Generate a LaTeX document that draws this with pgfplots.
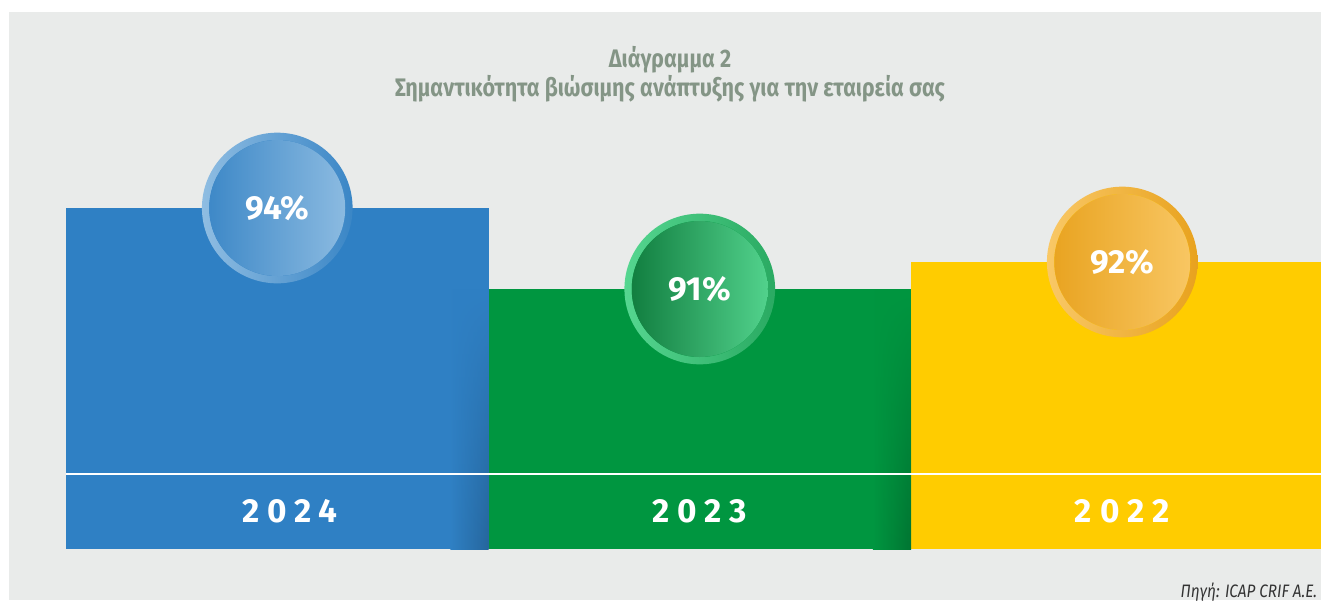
\documentclass[border=0pt]{standalone}
\usepackage{fontspec}
\setmainfont{Fira Sans}
\newfontfamily\condfont{Fira Sans}[FakeStretch=0.85]
\newfontfamily\yearfont{Fira Sans}[LetterSpace=24]
\usepackage{pgfplots}
\usetikzlibrary{fadings}
\pgfplotsset{compat=1.18}
\definecolor{bg}{HTML}{E9EBEA}
\definecolor{titlec}{HTML}{849586}
\definecolor{cblue}{HTML}{2F80C4}
\definecolor{cgreen}{HTML}{009640}
\definecolor{cyellow}{HTML}{FFCC00}
\definecolor{bLight}{HTML}{8FBDE2}
\definecolor{bDark}{HTML}{3A86C6}
\definecolor{gLight}{HTML}{55D690}
\definecolor{gDark}{HTML}{0E7A3C}
\definecolor{gRing}{HTML}{2AAA62}
\definecolor{yLight}{HTML}{F9C866}
\definecolor{yDark}{HTML}{E8A21E}
\tikzset{
  badge/.style n args={3}{anchor=center, circle, inner sep=0pt, minimum size=113pt,
    left color=#1, right color=#2, draw=none,
    path picture={\shade[left color=#3, right color=#1] (path picture bounding box.center) circle (51pt);},
    text=white, font=\fontsize{25}{25}\selectfont\bfseries}
}
\begin{document}
\begin{tikzpicture}[x=0.75pt,y=0.75pt]
\useasboundingbox (0,0) rectangle (1321,600);
\fill[white] (0,0) rectangle (1321,600);
\fill[bg] (9,0) rectangle (1321,588);
\node[text=titlec, font=\condfont\fontsize{19}{22}\selectfont\bfseries, align=center] at (670,526) {Διάγραμμα 2\\Σημαντικότητα βιώσιμης ανάπτυξης για την εταιρεία σας};
\begin{axis}[at={(49.5pt,38.25pt)}, anchor=south west, scale only axis,
  width=941.25pt, height=402.75pt,
  xmin=-0.5, xmax=2.4704, ymin=81.37, ymax=101.26,
  clip=false, axis on top,
  axis line style={draw=none}, tick style={draw=none},
  ytick=\empty, yticklabels={},
  xtick={0,1,2}, xticklabels={\hspace{19pt}2024,2023,2022},
  xticklabel style={anchor=center, yshift=28.5pt, text=white,
    font=\yearfont\fontsize{25}{25}\selectfont\bfseries},
  extra y ticks={84.15}, extra y tick labels={},
  extra y tick style={grid=major, major grid style={white, line width=1.5pt}},
  bar width=1, point meta=y,
  /pgf/number format/assume math mode=true,
  nodes near coords={\pgfmathprintnumber{\pgfplotspointmeta}\%},
]
\addplot[ybar, bar shift=0pt, fill=cblue, draw=none,
  every node near coord/.append style={badge={bLight}{bDark}{bDark}}] coordinates {(0,94)};
\addplot[ybar, bar shift=0pt, fill=cgreen, draw=none,
  every node near coord/.append style={badge={gLight}{gRing}{gDark}}] coordinates {(1,91)};
\addplot[ybar, bar shift=0pt, fill=cyellow, draw=none,
  every node near coord/.append style={badge={yLight}{yDark}{yDark}}] coordinates {(2,92)};
\shade[left color=cblue, right color=cblue!80!black, path fading=north] (axis cs:0.41,81.37) rectangle (axis cs:0.5,91);
\shade[left color=cgreen, right color=cgreen!78!black, path fading=north] (axis cs:1.41,81.37) rectangle (axis cs:1.5,91);
\end{axis}
\node[anchor=base west, text=black!80, font=\condfont\fontsize{13.5}{16}\selectfont\itshape] at (1176,3) {Πηγή: ICAP CRIF A.E.};
\end{tikzpicture}
\end{document}
